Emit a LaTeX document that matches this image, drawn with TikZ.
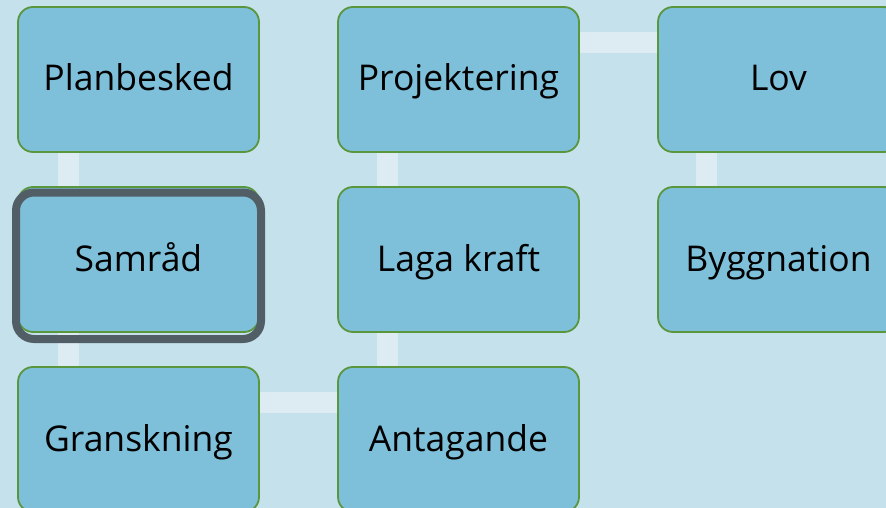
\documentclass[tikz,border=0pt]{standalone}
\usepackage{fontspec}
\setmainfont{Open Sans}
\usepackage{xcolor}
\usepackage{tikz}
\usetikzlibrary{positioning, backgrounds}
\definecolor{sky}{HTML}{C5E1EC}
\definecolor{boxblue}{HTML}{7EBFD9}
\definecolor{leaf}{HTML}{5A963C}
\definecolor{pale}{HTML}{DDECF3}
\definecolor{slate}{HTML}{525E66}
\tikzset{
  stage/.style={rectangle, draw=leaf, fill=boxblue, text=black, rounded corners=15pt, line width=1.8pt, minimum width=241pt, minimum height=145pt, outer sep=0pt, align=center, text height=27pt, text depth=4pt, font=\fontsize{35.5}{42}\selectfont},
  link/.style={draw=pale, line width=21pt},
  picked/.style={draw=slate, line width=8pt, rounded corners=18pt},
}
\begin{document}
\begin{tikzpicture}[x=1pt, y=-1pt]
  \useasboundingbox (0,0) rectangle (886,508);
  \node[stage] (plan) at (138.5,79.5) {Planbesked};
  \node[stage, below=35pt of plan] (samrad) {Samråd};
  \node[stage, below=35pt of samrad] (gransk) {Granskning};
  \node[stage, right=79pt of gransk] (antag) {Antagande};
  \node[stage, above=35pt of antag] (laga) {Laga kraft};
  \node[stage, above=35pt of laga] (projekt) {Projektering};
  \node[stage, right=79pt of projekt] (lov) {Lov};
  \node[stage, below=35pt of lov] (bygg) {Byggnation};
  % selection frame round Samråd
  \draw[picked] ([shift={(-2,5.5)}]samrad.north west) rectangle ([shift={(2,7)}]samrad.south east);
  \begin{scope}[on background layer]
    \fill[sky] (0,0) rectangle (886,508);
    \draw[link] ([xshift=-70.5pt]plan.south) -- ([xshift=-70.5pt]samrad.north);
    \draw[link] ([xshift=-70.5pt]samrad.south) -- ([xshift=-70.5pt]gransk.north);
    \draw[link] ([yshift=37pt]gransk.east) -- ([yshift=37pt]antag.west);
    \draw[link] ([xshift=-71pt]antag.north) -- ([xshift=-71pt]laga.south);
    \draw[link] ([xshift=-71pt]laga.north) -- ([xshift=-71pt]projekt.south);
    \draw[link] ([yshift=37pt]projekt.east) -- ([yshift=37pt]lov.west);
    \draw[link] ([xshift=-72pt]lov.south) -- ([xshift=-72pt]bygg.north);
  \end{scope}
\end{tikzpicture}
\end{document}
